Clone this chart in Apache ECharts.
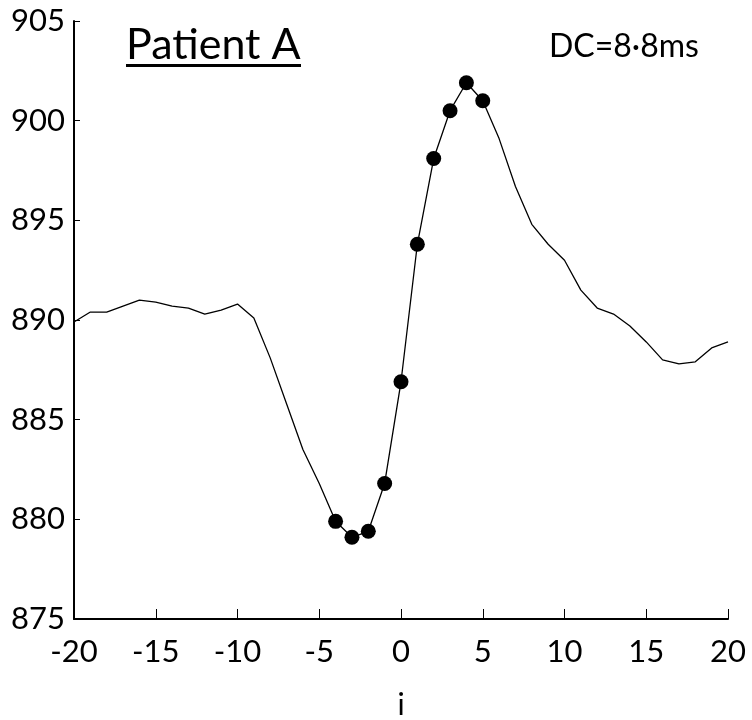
<!DOCTYPE html>
<html>
<head>
<meta charset="utf-8">
<script src="https://cdn.jsdelivr.net/npm/echarts@6/dist/echarts.min.js"></script>
<style>
  html, body { margin: 0; padding: 0; background: #fff; }
  #chart { width: 752px; height: 720px; }
</style>
</head>
<body>
<div id="chart"></div>
<script>
// beat index i
var beatIndex = [];
for (var k = -20; k <= 20; k++) beatIndex.push(k);

// RR interval (ms)
var rrValues = [
  889.9, 890.4, 890.4, 890.7, 891.0, 890.9, 890.7, 890.6, 890.3, 890.5,
  890.8, 890.1, 888.1, 885.8, 883.5, 881.8, 879.9, 879.1, 879.4, 881.8,
  886.9, 893.8, 898.1, 900.5, 901.9, 901.0, 899.1, 896.7, 894.8, 893.8,
  893.0, 891.5, 890.6, 890.3, 889.7, 888.9, 888.0, 887.8, 887.9, 888.6,
  888.9
];

// points marked with dots: i = -4 .. 5
var dotRange = [-4, 5];

var linePts = [];
var dotPts = [];
for (var j = 0; j < beatIndex.length; j++) {
  linePts.push([beatIndex[j], rrValues[j]]);
  if (beatIndex[j] >= dotRange[0] && beatIndex[j] <= dotRange[1]) {
    dotPts.push([beatIndex[j], rrValues[j]]);
  }
}

var FONT = 'Lato, "Open Sans", sans-serif';

var chart = echarts.init(document.getElementById('chart'));
chart.setOption({
  animation: false,
  grid: { left: 74, right: 24, top: 21, bottom: 101, outerBoundsMode: 'none', containLabel: false },
  xAxis: {
    type: 'value',
    min: -20, max: 20, interval: 5,
    name: 'i',
    nameLocation: 'middle',
    nameGap: 71,
    nameTextStyle: { fontFamily: FONT, fontSize: 30, color: '#000' },
    axisLine: { onZero: false, lineStyle: { color: '#000', width: 2 } },
    axisTick: { inside: true, length: 10, lineStyle: { color: '#000', width: 1 } },
    axisLabel: { fontFamily: FONT, fontSize: 31, color: '#000', margin: 17 },
    splitLine: { show: false }
  },
  yAxis: {
    type: 'value',
    min: 875, max: 905, interval: 5,
    axisLine: { show: true, onZero: false, lineStyle: { color: '#000', width: 2 } },
    axisTick: { show: true, inside: true, length: 6, lineStyle: { color: '#000', width: 1 } },
    axisLabel: { fontFamily: FONT, fontSize: 31, color: '#000', margin: 9 },
    splitLine: { show: false }
  },
  graphic: [
    {
      type: 'text', left: 126, top: 24,
      style: { text: 'Patient A', fontFamily: FONT, fontSize: 43, fill: '#000' }
    },
    {
      type: 'rect', left: 126, top: 64,
      shape: { width: 175, height: 3 },
      style: { fill: '#000' }
    },
    {
      type: 'text', left: 549, top: 31,
      style: { text: 'DC=8·8ms', fontFamily: FONT, fontSize: 32, fill: '#000' }
    }
  ],
  series: [
    {
      type: 'line',
      data: linePts,
      showSymbol: false,
      lineStyle: { color: '#000', width: 1.3 },
      z: 2
    },
    {
      type: 'scatter',
      data: dotPts,
      symbol: 'circle',
      symbolSize: 15,
      itemStyle: { color: '#000', opacity: 1 },
      z: 3
    }
  ]
});
</script>
</body>
</html>
